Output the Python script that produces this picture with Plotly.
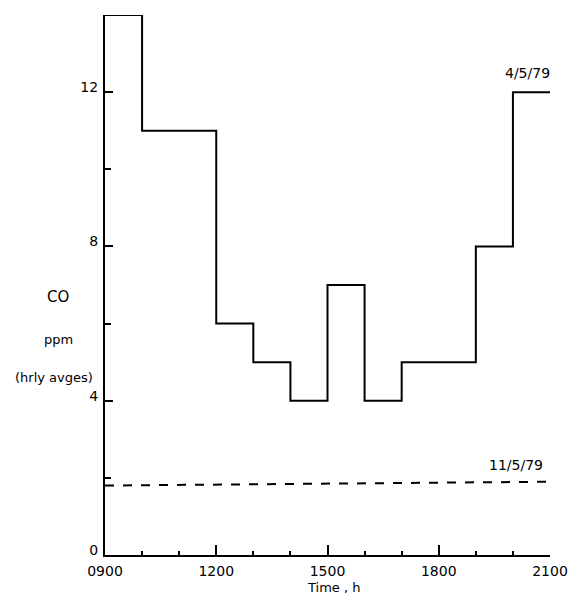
import plotly.graph_objects as go

# Hour boundaries (start of each hourly average) and CO values
hours_4 = [9, 10, 11, 12, 13, 14, 15, 16, 17, 18, 19, 20, 21]
co_4 = [14, 11, 11, 6, 5, 4, 7, 4, 5, 5, 8, 12, 12]

hours_11 = [9, 21]
co_11 = [1.8, 1.9]

x_tickvals = [9, 12, 15, 18, 21]
x_ticktext = ["0900", "1200", "1500", "1800", "2100"]
y_tickvals = [0, 4, 8, 12]
y_ticktext = ["0", "4", "8", "12"]

FONT = "DejaVu Sans"

fig = go.Figure()
fig.add_trace(go.Scatter(x=hours_4, y=co_4, mode="lines", line_shape="hv",
                         line=dict(color="black", width=2), showlegend=False))
fig.add_trace(go.Scatter(x=hours_11, y=co_11, mode="lines",
                         line=dict(color="black", width=2, dash="dash"), showlegend=False))

fig.update_layout(
    width=580, height=596,
    margin=dict(l=105, r=22, t=15, b=41),
    plot_bgcolor="white", paper_bgcolor="white",
    font=dict(family=FONT, size=13, color="black"),
    xaxis=dict(range=[9, 21], tickvals=x_tickvals, ticktext=x_ticktext,
               showgrid=False, zeroline=False, showline=True, linecolor="black", linewidth=2,
               ticks="inside", ticklen=10, tickwidth=1.5, tickcolor="black",
               minor=dict(ticks="inside", ticklen=4, dtick=1, tick0=9, tickcolor="black", showgrid=False),
               tickfont=dict(size=14), ticklabelstandoff=2),
    yaxis=dict(range=[0, 14], tickvals=y_tickvals, ticktext=y_ticktext,
               showgrid=False, zeroline=False, showline=True, linecolor="black", linewidth=2,
               ticks="inside", ticklen=8, tickwidth=1.5, tickcolor="black",
               minor=dict(ticks="inside", ticklen=6, dtick=2, tick0=0, tickcolor="black", showgrid=False),
               tickfont=dict(size=14), ticklabelshift=-5, ticklabelstandoff=2),
)

def txt(size):
    return dict(family=FONT, size=size, color="black")

common = dict(showarrow=False, xanchor="center", yanchor="middle")
fig.add_annotation(text="CO", xref="paper", yref="y", x=-0.105, y=6.7, font=txt(15), **common)
fig.add_annotation(text="ppm", xref="paper", yref="y", x=-0.105, y=5.6, font=txt(13), **common)
fig.add_annotation(text="(hrly avges)", xref="paper", yref="y", x=-0.115, y=4.6, font=txt(13), **common)
fig.add_annotation(text="4/5/79", xref="x", yref="y", x=20.39, y=12.5, font=txt(14), **common)
fig.add_annotation(text="11/5/79", xref="x", yref="y", x=20.07, y=2.33, font=txt(14), **common)
fig.add_annotation(text="Time , h", xref="x", yref="paper", x=15.15, y=-0.06, font=txt(13), **common)

fig.write_html("out.html")
